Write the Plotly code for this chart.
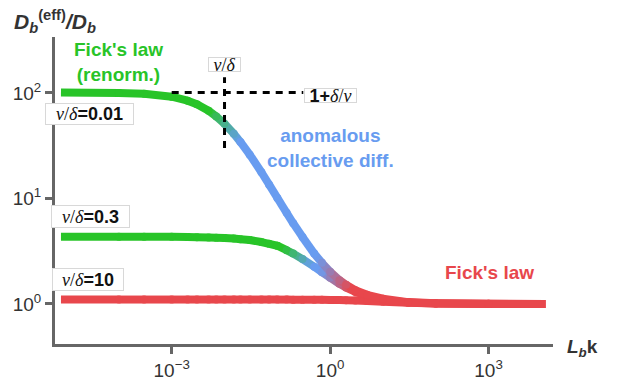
import plotly.graph_objects as go
import math

# ---------------- data ----------------
k_vals = [8e-6, 1e-4, 3e-4, 1e-3, 2e-3, 3e-3, 5e-3, 7e-3, 1e-2, 1.5e-2,
          2e-2, 3e-2, 5e-2, 7e-2, 0.1, 0.15, 0.2, 0.3, 0.5, 0.7,
          1, 1.5, 2, 3, 5, 10, 30, 100, 1e3, 1.2e4]

# nu/delta = 0.01
D_001 = [101, 100, 98, 92, 84.3, 78, 67.7, 59.8, 51, 41,
         34.3, 26, 17.7, 13.5, 10.1, 7.3, 5.8, 4.3, 3.0, 2.45,
         2.02, 1.68, 1.52, 1.35, 1.22, 1.12, 1.04, 1.015, 1.005, 1.0]
# nu/delta = 0.3
D_03 = [4.33, 4.33, 4.33, 4.32, 4.30, 4.29, 4.26, 4.24, 4.22, 4.17,
        4.11, 4.03, 3.86, 3.71, 3.56, 3.23, 3.0, 2.66, 2.25, 2.0,
        1.77, 1.55, 1.43, 1.30, 1.19, 1.09, 1.03, 1.01, 1.0, 1.0]
# nu/delta = 10
D_10 = [1.10, 1.10, 1.10, 1.10, 1.10, 1.10, 1.10, 1.10, 1.10, 1.10,
        1.10, 1.10, 1.10, 1.10, 1.099, 1.099, 1.098, 1.097, 1.095, 1.093,
        1.091, 1.087, 1.083, 1.077, 1.067, 1.05, 1.025, 1.009, 1.001, 1.0]

x_tickvals = [1e-3, 1, 1e3]
x_ticktext = ["10<sup>−3</sup>", "10<sup>0</sup>", "10<sup>3</sup>"]
y_tickvals = [1, 10, 100]
y_ticktext = ["10<sup>0</sup>", "10<sup>1</sup>", "10<sup>2</sup>"]

hline_x = [1e-3, 0.31]
hline_y = [101, 101]
vline_x = [1e-2, 1e-2]
vline_y = [30, 141]

# ---------------- styles ----------------
GREEN = (40, 196, 40)
BLUE = (104, 156, 240)
RED = (232, 71, 76)
FONT = "Liberation Sans, Arial, sans-serif"
SERIF = "Liberation Serif"


def blend(c1, c2, t):
    return tuple(c1[i] + (c2[i] - c1[i]) * t for i in range(3))


def color_at(lk, stops):
    if lk <= stops[0][0]:
        return stops[0][1]
    for (a, ca), (b, cb) in zip(stops[:-1], stops[1:]):
        if a <= lk <= b:
            t = 0 if b == a else (lk - a) / (b - a)
            return blend(ca, cb, t)
    return stops[-1][1]


def rgb(c):
    return "rgb(%d,%d,%d)" % tuple(int(round(v)) for v in c)


stops_top = [(-9, GREEN), (-2.3, GREEN), (-1.7, BLUE), (-0.25, BLUE), (0.4, RED), (9, RED)]
stops_mid = [(-9, GREEN), (-0.9, GREEN), (-0.35, BLUE), (-0.2, BLUE), (0.4, RED), (9, RED)]
stops_bot = [(-9, RED), (9, RED)]

LW = 8

fig = go.Figure()


def add_curve(ys, stops):
    n = len(k_vals)
    cols = [rgb(color_at(math.log10(k_vals[i]), stops)) for i in range(n)]
    for i in range(n - 1):
        lm = 0.5 * (math.log10(k_vals[i]) + math.log10(k_vals[i + 1]))
        fig.add_trace(go.Scatter(
            x=[k_vals[i], k_vals[i + 1]], y=[ys[i], ys[i + 1]],
            mode="lines", line=dict(color=rgb(color_at(lm, stops)), width=LW),
            showlegend=False, hoverinfo="skip"))
    fig.add_trace(go.Scatter(
        x=k_vals[1:-1], y=ys[1:-1], mode="markers",
        marker=dict(color=cols[1:-1], size=LW, line=dict(width=0)),
        showlegend=False, hoverinfo="skip"))


add_curve(D_10, stops_bot)
add_curve(D_03, stops_mid)
add_curve(D_001, stops_top)

for xs, ys in [(hline_x, hline_y), (vline_x, vline_y)]:
    fig.add_trace(go.Scatter(x=xs, y=ys, mode="lines",
                             line=dict(color="black", width=3, dash="7px,6px"),
                             showlegend=False, hoverinfo="skip"))

# ---------------- layout ----------------
W, H = 623, 385
L, R, T, B = 55, 70, 37, 41
PW, PH = W - L - R, H - T - B


def px(x):
    return (x - L) / PW


def py(y):
    return (H - B - y) / PH


ann = []


def text_ann(x, y, text, size, color, xanchor="center", yanchor="middle", align="center"):
    ann.append(dict(xref="paper", yref="paper", x=px(x), y=py(y), text=text,
                    showarrow=False, xanchor=xanchor, yanchor=yanchor, align=align,
                    font=dict(family=FONT, size=size, color=color)))


def box_ann(x, y, text, w, h):
    ann.append(dict(xref="paper", yref="paper", x=px(x), y=py(y), text=text,
                    showarrow=False, xanchor="center", yanchor="middle", align="center",
                    width=w, height=h, bgcolor="white", bordercolor="#d8d8d8",
                    borderwidth=1, borderpad=0,
                    font=dict(family=FONT, size=18, color="#111")))


nd = "<span style='font-family:%s'><i>ν</i>/<i>δ</i></span>" % SERIF
dn = "<span style='font-family:%s'><i>δ</i>/<i>ν</i></span>" % SERIF

text_ann(12, 22, "<b><i>D</i><sub><i>b</i></sub><sup>(eff)</sup><i>/D</i><sub><i>b</i></sub></b>",
         21, "#333", xanchor="left")
text_ann(565, 348, "<b><i>L</i><sub><i>b</i></sub>k</b>", 19, "#333", xanchor="left")
text_ann(118.5, 62, "<b>Fick's law<br>(renorm.)</b>", 19, rgb(GREEN))
text_ann(330.5, 148, "<b>anomalous<br>collective diff.</b>", 19, rgb(BLUE))
text_ann(489.5, 272.5, "<b>Fick's law</b>", 19, rgb(RED))

box_ann(224.5, 64.5, nd, 31, 13)
box_ann(330.5, 95.5, "<b>1+</b>" + dn, 51, 13)
box_ann(89.5, 114, nd + "<b>=0.01</b>", 87, 20)
box_ann(90.5, 216.5, nd + "<b>=0.3</b>", 77, 21)
box_ann(88, 279.5, nd + "<b>=10</b>", 70, 21)

axis_common = dict(
    type="log", showline=True, linecolor="#666", linewidth=3,
    ticks="outside", ticklen=7, tickwidth=3, tickcolor="#666",
    showgrid=False, zeroline=False, automargin=False,
    tickfont=dict(family=FONT, size=19, color="#333"))

fig.update_layout(
    width=W, height=H,
    margin=dict(l=L, r=R, t=T, b=B, autoexpand=False),
    paper_bgcolor="white", plot_bgcolor="white",
    xaxis=dict(range=[-5.21, 4.22], tickvals=x_tickvals, ticktext=x_ticktext, **axis_common),
    yaxis=dict(range=[-0.38, 2.53], tickvals=y_tickvals, ticktext=y_ticktext, **axis_common),
    annotations=ann,
    showlegend=False,
)

fig.write_html("out.html", config={"displayModeBar": False},
               post_script="document.body.style.margin='0px';document.body.style.overflow='hidden';")
